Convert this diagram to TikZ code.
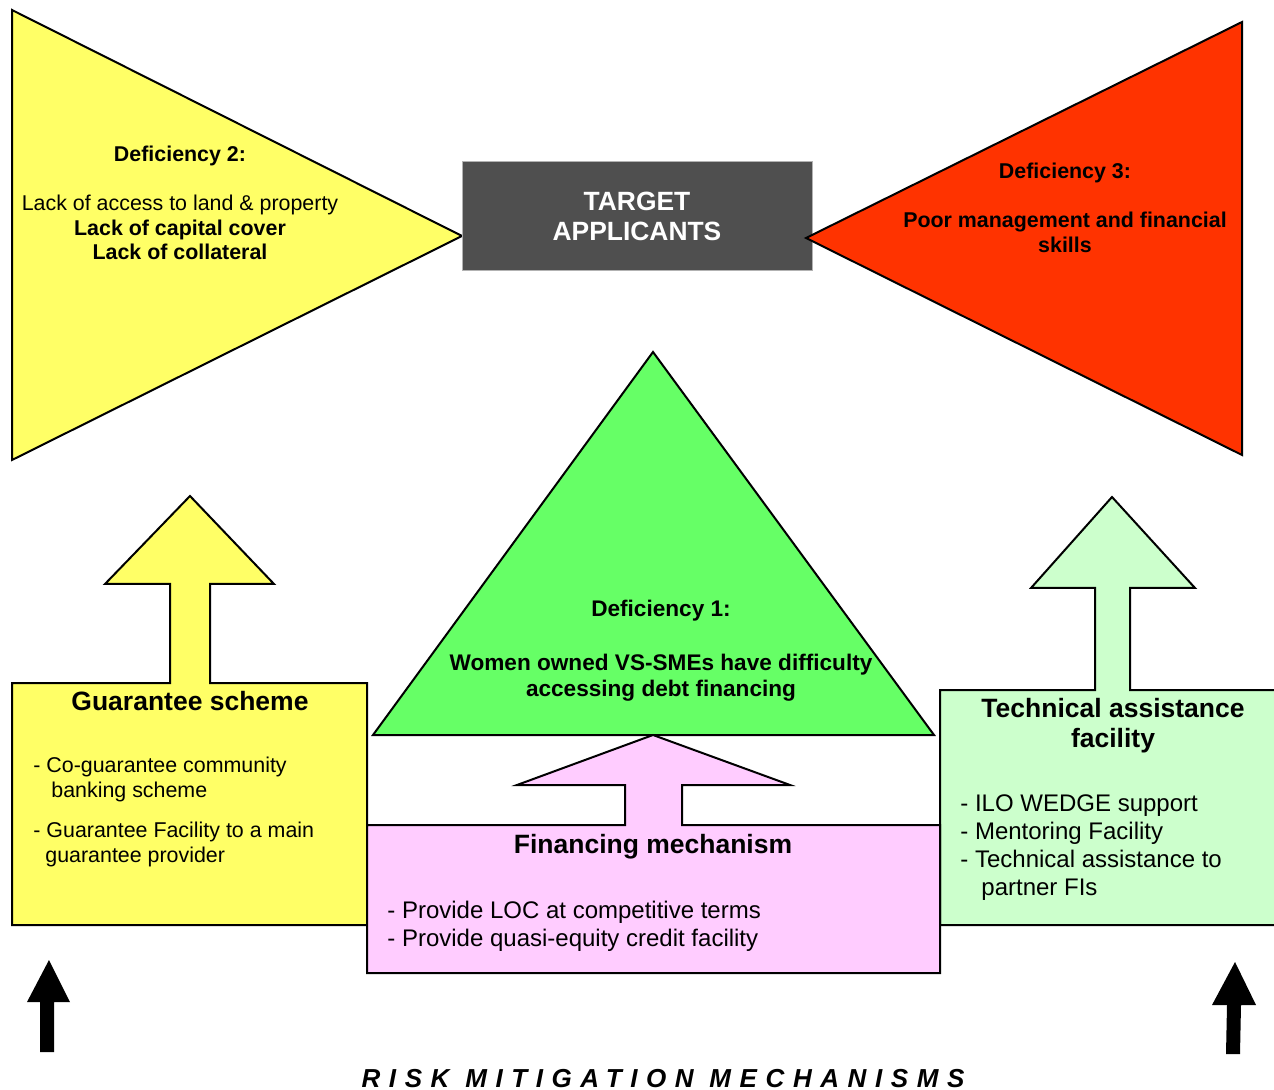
\documentclass[tikz,border=0pt]{standalone}
\usepackage{fontspec}
\setmainfont{Liberation Sans}
\usepackage{tikz}
\usetikzlibrary{positioning}

\definecolor{defyellow}{HTML}{FFFF66}
\definecolor{defred}{HTML}{FF3300}
\definecolor{defgreen}{HTML}{66FF66}
\definecolor{tagreen}{HTML}{CCFFCC}
\definecolor{finpink}{HTML}{FFCCFF}
\definecolor{targetgrey}{HTML}{4F4F4F}

\tikzset{
  shape line/.style={draw=black, line width=1pt},
  def text/.style={font=\fontsize{10.7}{12.25}\selectfont, align=center, inner sep=0pt},
  box title/.style={font=\fontsize{13.25}{15}\selectfont\bfseries, align=center, inner sep=0pt},
  list text/.style={align=left, anchor=west, inner sep=0pt},
}

\begin{document}
\begin{tikzpicture}[x=0.5pt,y=-0.5pt]
  \useasboundingbox (0,0) rectangle (1274,1090);

  % Draw the deficiency triangles
  \filldraw[shape line, fill=defyellow] (12,10) -- (462,236) -- (12,460) -- cycle;
  \node[draw=gray!60, fill=targetgrey, text=white, minimum width=175pt, minimum height=54.5pt,
        font=\fontsize{13.2}{15}\selectfont\bfseries, align=center] (target) at (637,216) {TARGET\\APPLICANTS};
  \filldraw[shape line, fill=defred] (806,238) -- (1242,22) -- (1242,455) -- cycle;
  \filldraw[shape line, fill=defgreen] (653,352) -- (934,735) -- (373,735) -- cycle;

  % Draw the mitigation boxes with their arrows
  \filldraw[shape line, fill=defyellow] (12,683) -- (170,683) -- (170,584) -- (105,584) -- (190,496)
    -- (274,584) -- (210,584) -- (210,683) -- (367,683) -- (367,925) -- (12,925) -- cycle;
  \filldraw[shape line, fill=tagreen] (940,690) -- (1095,690) -- (1095,588) -- (1031,588) -- (1112,497)
    -- (1195,588) -- (1130,588) -- (1130,690) -- (1290,690) -- (1290,925) -- (940,925) -- cycle;
  \filldraw[shape line, fill=finpink] (367,825) -- (625,825) -- (625,785) -- (517,785) -- (653,735)
    -- (790,785) -- (682,785) -- (682,825) -- (940,825) -- (940,973) -- (367,973) -- cycle;

  % Draw the black arrows
  \fill (49,960) -- (70,1002) -- (54,1002) -- (54,1052) -- (40,1052) -- (40,1002) -- (27,1002) -- cycle;
  \fill (1235,962) -- (1256,1005) -- (1241,1005) -- (1240,1054) -- (1226,1054) -- (1227,1005) -- (1212,1005) -- cycle;

  % Label the deficiencies
  \node[def text] (def2) at (180,203) {\textbf{Deficiency 2:}\\[12.25pt]
    Lack of access to land \& property\\\textbf{Lack of capital cover}\\\textbf{Lack of collateral}};
  \node[def text, font=\fontsize{10.7}{12.25}\selectfont\bfseries] (def3) at (1065,208)
    {Deficiency 3:\\[12.25pt]Poor management and financial\\skills};
  \node[def text, font=\fontsize{11.3}{13}\selectfont\bfseries] (def1) at (661,651)
    {Deficiency 1:\\[14pt]Women owned VS-SMEs have difficulty\\accessing debt financing};

  % Label the mitigation boxes
  \node[box title] (guar) at (190,701) {Guarantee scheme};
  \node[list text, font=\fontsize{10.7}{12.5}\selectfont] (guarlist) at (33,812)
    {- Co-guarantee community\\\hspace*{9pt}banking scheme\\[7.5pt]
     - Guarantee Facility to a main\\\hspace*{6pt}guarantee provider};
  \node[box title] (ta) at (1113,726) {Technical assistance\\facility};
  \node[list text, font=\fontsize{12}{14}\selectfont] (talist) at (960,848)
    {- ILO WEDGE support\\- Mentoring Facility\\- Technical assistance to\\\hspace*{10.5pt}partner FIs};
  \node[box title] (fin) at (653,847) {Financing mechanism};
  \node[list text, font=\fontsize{12}{14}\selectfont] (finlist) at (387,926)
    {- Provide LOC at competitive terms\\- Provide quasi-equity credit facility};

  % Label the bottom
  \node[anchor=base, inner sep=0pt,
        font=\fontsize{13}{15}\selectfont\bfseries\itshape\addfontfeatures{LetterSpace=33}] (risk) at (663,1087)
    {RISK MITIGATION MECHANISMS};
\end{tikzpicture}
\end{document}
